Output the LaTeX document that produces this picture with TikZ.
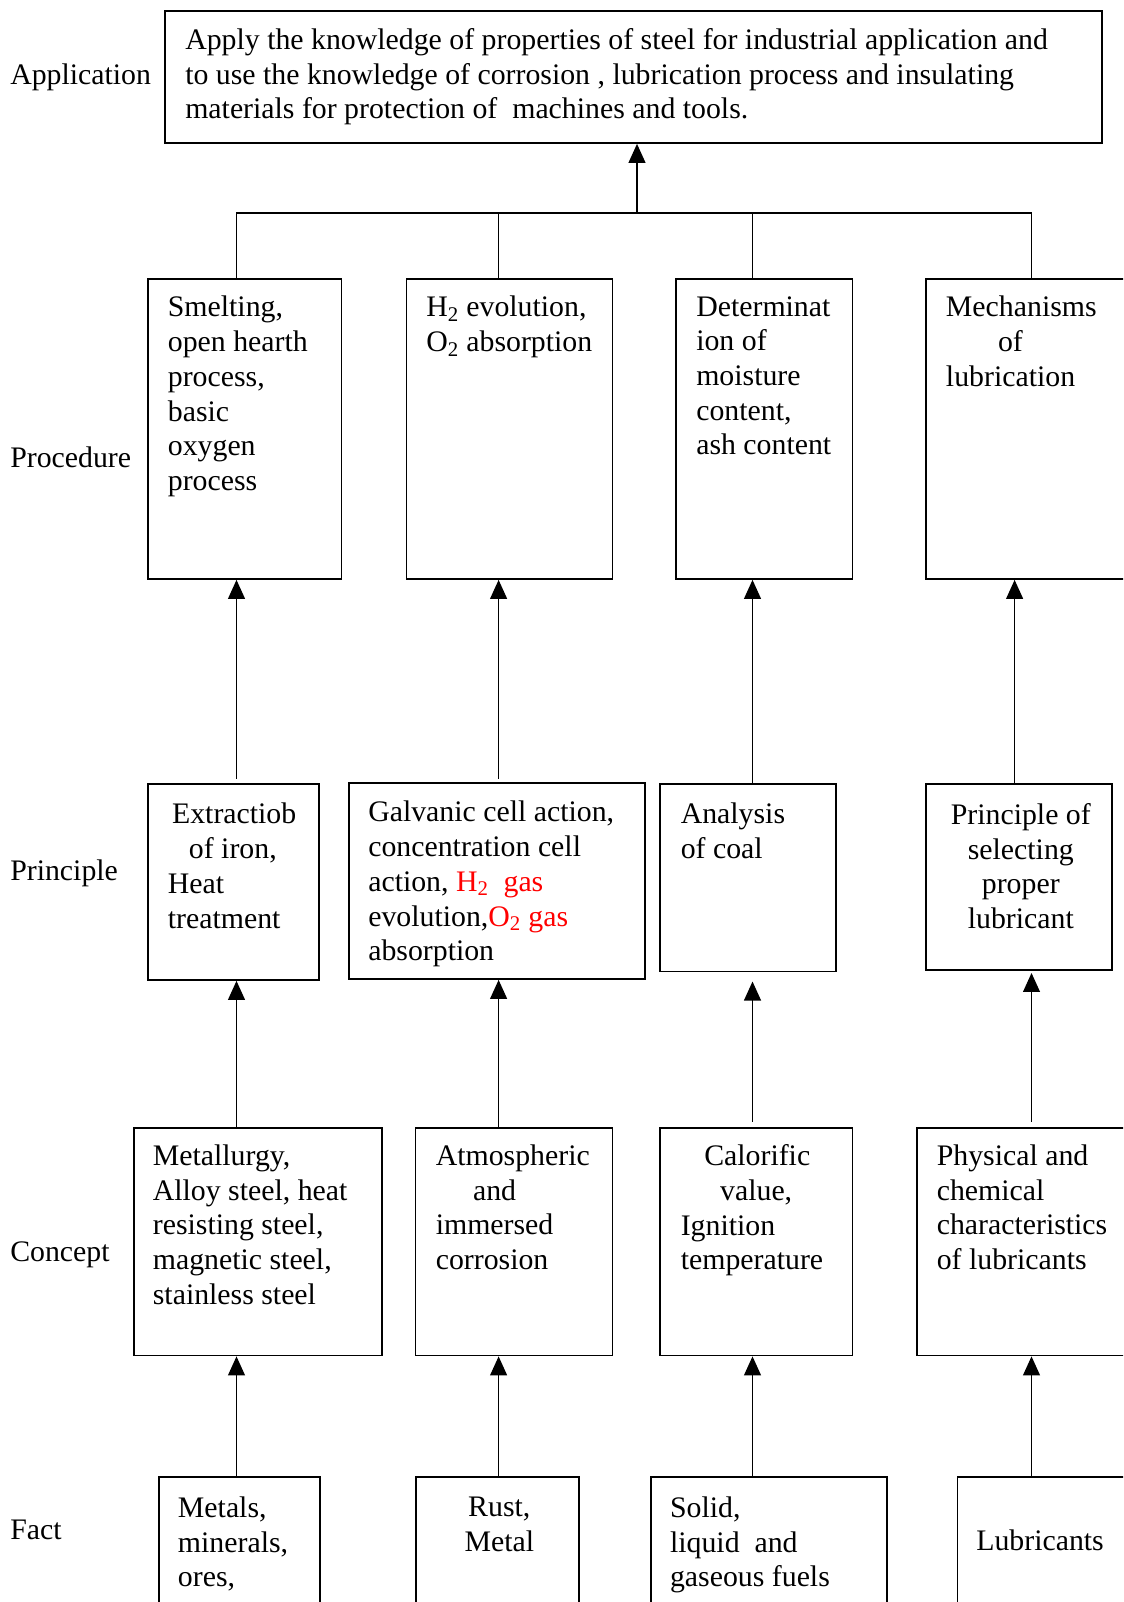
\documentclass[tikz,border=0pt]{standalone}
\usepackage{fontspec}
\setmainfont{Liberation Serif}
\usetikzlibrary{arrows.meta,fit,calc}

\begin{document}
\begin{tikzpicture}[
  x=0.025cm, y=-0.025cm,
  box/.style={rectangle, draw, line width=1.25pt, inner sep=0pt},
  txt/.style={inner sep=0pt, anchor=north west, align=left,
    font=\fontsize{21.2}{24.7}\selectfont},
  ctxt/.style={txt, anchor=north, align=center},
  lbl/.style={inner sep=0pt, anchor=west, font=\fontsize{21.2}{24.7}\selectfont},
  arr/.style={line width=1pt, -{Triangle[length=13.5pt,width=12pt]}},
  link/.style={line width=1pt},
]
\useasboundingbox (0,0) rectangle (1123,1602);
\clip (0,0) rectangle (1123,1602);

% Columns
\coordinate (k1) at (236.5,0);
\coordinate (k2) at (498.6,0);
\coordinate (k3) at (752.5,0);
\coordinate (k4) at (1031.5,0);
\coordinate (k5) at (1014.6,0);
\coordinate (hub) at (637,213);

% Row labels
\node[lbl] (lapp) at (10, 77.5) {Application};
\node[lbl] (lproc) at (10, 457) {Procedure};
\node[lbl] (lprin) at (10, 873) {Principle};
\node[lbl] (lconc) at (10, 1254.5) {Concept};
\node[lbl] (lfact) at (10, 1529.5) {Fact};

% Application
\node[box, fit={(165,10.7) (1102,143)}] (app) {};
\node[txt] (appt) at (185, 28) {Apply the knowledge of properties of steel for industrial application and\\to use the knowledge of corrosion , lubrication process and insulating\\materials for protection of~ machines and tools.};

% Procedure
\node[box, fit={(148,279) (341.5,579)}] (p1) {};
\node[box, fit={(406.5,279) (612.5,579)}] (p2) {};
\node[box, fit={(676,279) (852.5,579)}] (p3) {};
\node[box, fit={(926,279) (1140,579)}] (p4) {};
\node[txt] (p1t) at (167.6, 296) {Smelting,\\open hearth\\process,\\basic\\oxygen\\process};
\node[txt] (p2t) at (426, 296) {H\textsubscript{2} evolution,\\O\textsubscript{2} absorption};
\node[txt] (p3t) at (696, 296) {Determinat\\ion of\\moisture\\content,\\ash content};
\node[txt] (p4t) at (945.7, 296) {Mechanisms\\\hspace*{37pt}of\\lubrication};

% Principle
\node[box, fit={(148,784) (319,980)}] (r1) {};
\node[box, fit={(349,783) (645,979)}] (r2) {};
\node[box, fit={(660,784) (836,971.5)}] (r3) {};
\node[box, fit={(926,784) (1112,970)}] (r4) {};
\node[txt] (r1t) at (167.6, 803) {\hspace*{3pt}Extractiob\\\hspace*{15pt}of iron,\\Heat\\treatment};
\node[txt] (r2t) at (368, 801) {Galvanic cell action,\\concentration cell\\action, \textcolor{red}{H\textsubscript{2}~ gas}\\evolution,\textcolor{red}{O\textsubscript{2} gas}\\absorption};
\node[txt] (r3t) at (680.5, 803) {Analysis\\of coal};
\node[ctxt] (r4t) at (1020.8, 803) {Principle of\\selecting\\proper\\lubricant};

% Concept
\node[box, fit={(134,1128) (382,1355.5)}] (c1) {};
\node[box, fit={(415.5,1128) (612.5,1355.5)}] (c2) {};
\node[box, fit={(660,1128) (852.5,1355.5)}] (c3) {};
\node[box, fit={(917,1128) (1140,1355.5)}] (c4) {};
\node[txt] (c1t) at (152.6, 1144.5) {Metallurgy,\\Alloy steel, heat\\resisting steel,\\magnetic steel,\\stainless steel};
\node[txt] (c2t) at (435.5, 1144.5) {Atmospheric\\\hspace*{26.5pt}and\\immersed\\corrosion};
\node[txt] (c3t) at (680.5, 1144.5) {\hspace*{16.7pt}Calorific\\\hspace*{28pt}value,\\Ignition\\temperature};
\node[txt] (c4t) at (936.5, 1144.5) {Physical and\\chemical\\characteristics\\of lubricants};

% Fact
\node[box, fit={(159,1477) (320,1640)}] (f1) {};
\node[box, fit={(416,1477) (579,1640)}] (f2) {};
\node[box, fit={(651,1477) (887,1640)}] (f3) {};
\node[box, fit={(957.5,1477) (1140,1640)}] (f4) {};
\node[txt] (f1t) at (177.7, 1496.5) {Metals,\\minerals,\\ores,};
\node[ctxt] (f2t) at (499.3, 1496.5) {Rust,\\Metal};
\node[txt] (f3t) at (669.8, 1496.5) {Solid,\\liquid~ and\\gaseous fuels};
\node[txt] (f4t) at (976, 1529.5) {Lubricants};

% Fact to concept
\draw[arr] (f1.north -| k1) -- (c1.south -| k1);
\draw[arr] (f2.north -| k2) -- (c2.south -| k2);
\draw[arr] (f3.north -| k3) -- (c3.south -| k3);
\draw[arr] (f4.north -| k4) -- (c4.south -| k4);

% Concept to principle
\draw[arr] (c1.north -| k1) -- (r1.south -| k1);
\draw[arr] (c2.north -| k2) -- (r2.south -| k2);
\draw[arr, shorten <=3.8pt, shorten >=6.5pt] (c3.north -| k3) -- (r3.south -| k3);
\draw[arr, shorten <=3.8pt, shorten >=1.5pt] (c4.north -| k4) -- (r4.south -| k4);

% Principle to procedure
\draw[arr, shorten <=3pt] (r1.north -| k1) -- (p1.south -| k1);
\draw[arr, shorten <=2.3pt] (r2.north -| k2) -- (p2.south -| k2);
\draw[arr] (r3.north -| k3) -- (p3.south -| k3);
\draw[arr] (r4.north -| k5) -- (p4.south -| k5);

% Procedure to application
\draw[link] (p1.north -| k1) |- (hub) -| (p4.north -| k4);
\draw[link] (p2.north -| k2) -- (hub -| k2);
\draw[link] (p3.north -| k3) -- (hub -| k3);
\draw[arr] (hub) -- (app.south -| hub);

\end{tikzpicture}
\end{document}
